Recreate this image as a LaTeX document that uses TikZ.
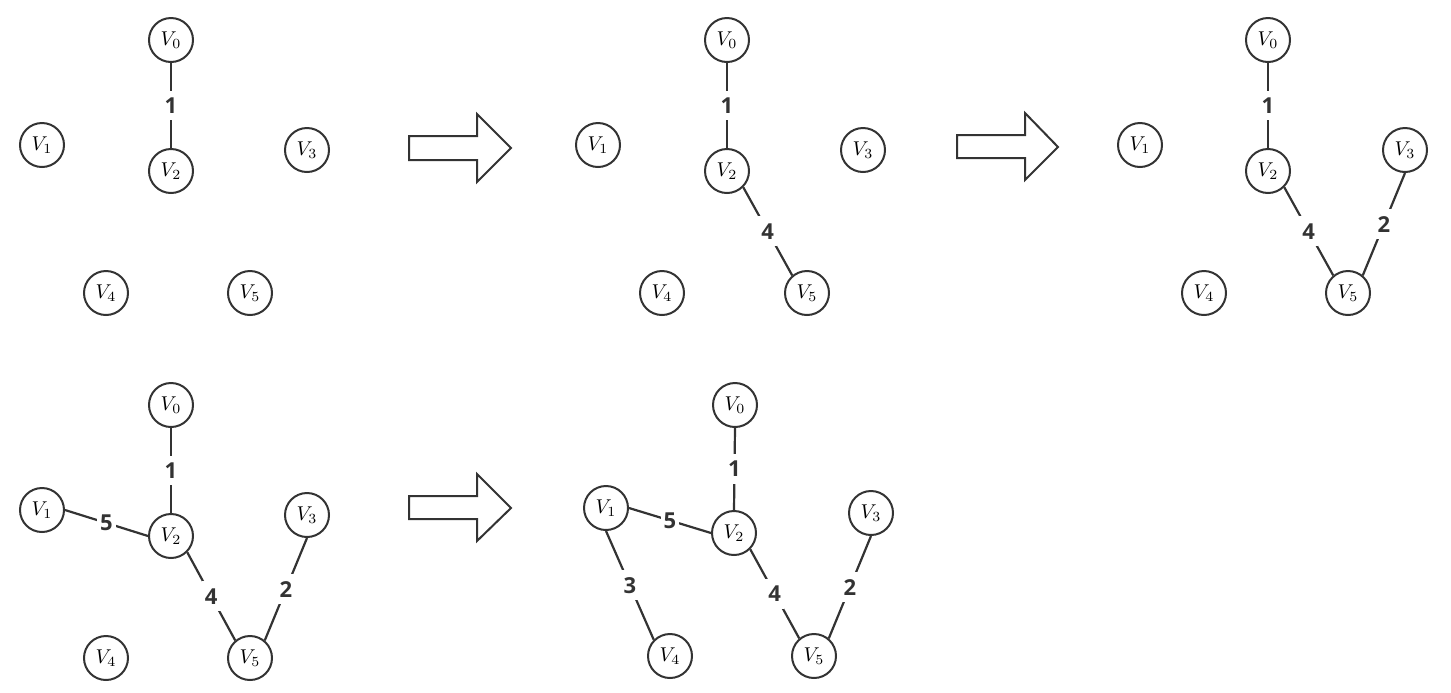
\documentclass[tikz,border=0pt]{standalone}
\usepackage{fontspec}
\newfontfamily\wfont{Open Sans}
\definecolor{lineGray}{HTML}{333333}

\begin{document}
\begin{tikzpicture}[x=0.5pt, y=-0.5pt,
  vtx/.style={draw=lineGray, circle, line width=1pt, minimum size=22pt, inner sep=0pt},
  wt/.style={fill=white, inner xsep=1.5pt, inner ysep=3.5pt, font=\wfont\fontsize{11}{13}\selectfont\bfseries, text=lineGray},
  link/.style={draw=lineGray, line width=1.1pt},
  bigarrow/.style={draw=lineGray, line width=1pt, line join=miter}]
  \useasboundingbox (0,0) rectangle (1451,692);

  % Step 1
  \node[vtx] (a0) at (171,40) {$V_0$};
  \node[vtx] (a1) at (42,145) {$V_1$};
  \node[vtx] (a2) at (171,171) {$V_2$};
  \node[vtx] (a3) at (307,150) {$V_3$};
  \node[vtx] (a4) at (106,293) {$V_4$};
  \node[vtx] (a5) at (250,293) {$V_5$};
  \draw[link] (a0.south) -- node[wt] {1} (a2.north);

  % Step 2
  \node[vtx] (b0) at (727,40) {$V_0$};
  \node[vtx] (b1) at (598,145) {$V_1$};
  \node[vtx] (b2) at (727,171) {$V_2$};
  \node[vtx] (b3) at (863,150) {$V_3$};
  \node[vtx] (b4) at (662,293) {$V_4$};
  \node[vtx] (b5) at (807,293) {$V_5$};
  \draw[link] (b0.south) -- node[wt] {1} (b2.north);
  \draw[link] (b2.south east) -- node[wt] {4} (b5.130);

  % Step 3
  \node[vtx] (c0) at (1268,40) {$V_0$};
  \node[vtx] (c1) at (1140,145) {$V_1$};
  \node[vtx] (c2) at (1268,171) {$V_2$};
  \node[vtx] (c3) at (1405,150) {$V_3$};
  \node[vtx] (c4) at (1204,293) {$V_4$};
  \node[vtx] (c5) at (1348,293) {$V_5$};
  \draw[link] (c0.south) -- node[wt] {1} (c2.north);
  \draw[link] (c2.south east) -- node[wt] {4} (c5.130);
  \draw[link] (c3.south) -- node[wt] {2} (c5.50);

  % Step 4
  \node[vtx] (d0) at (171,405) {$V_0$};
  \node[vtx] (d1) at (42,510) {$V_1$};
  \node[vtx] (d2) at (171,536) {$V_2$};
  \node[vtx] (d3) at (307,515) {$V_3$};
  \node[vtx] (d4) at (106,658) {$V_4$};
  \node[vtx] (d5) at (250,658) {$V_5$};
  \draw[link] (d0.south) -- node[wt] {1} (d2.north);
  \draw[link] (d1.east) -- node[wt] {5} (d2.west);
  \draw[link] (d2.south east) -- node[wt] {4} (d5.130);
  \draw[link] (d3.south) -- node[wt] {2} (d5.50);

  % Step 5
  \node[vtx] (e0) at (735,405) {$V_0$};
  \node[vtx] (e1) at (606,508) {$V_1$};
  \node[vtx] (e2) at (734,533) {$V_2$};
  \node[vtx] (e3) at (871,513) {$V_3$};
  \node[vtx] (e4) at (670,656) {$V_4$};
  \node[vtx] (e5) at (814,656) {$V_5$};
  \draw[link] (e0.south) -- node[wt] {1} (e2.north);
  \draw[link] (e1.east) -- node[wt] {5} (e2.west);
  \draw[link] (e1.south) -- node[wt] {3} (e4.north west);
  \draw[link] (e2.south east) -- node[wt] {4} (e5.130);
  \draw[link] (e3.south) -- node[wt] {2} (e5.50);

  % Big arrows
  \draw[bigarrow] (409,136) -- (477,136) -- (477,114) -- (511,148) -- (477,182) -- (477,160) -- (409,160) -- cycle;
  \draw[bigarrow] (957,135) -- (1025,135) -- (1025,113) -- (1058,147) -- (1025,180) -- (1025,158) -- (957,158) -- cycle;
  \draw[bigarrow] (409,496) -- (477,496) -- (477,474) -- (511,508) -- (477,541) -- (477,519) -- (409,519) -- cycle;
\end{tikzpicture}
\end{document}
